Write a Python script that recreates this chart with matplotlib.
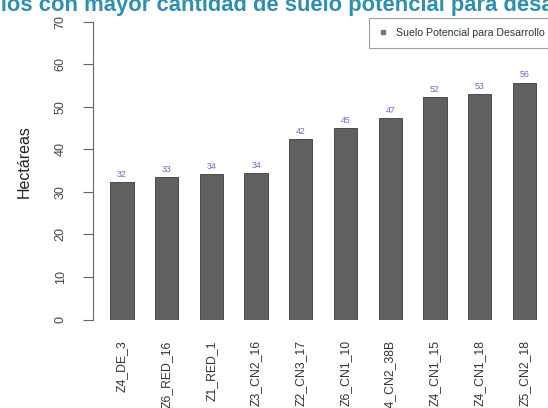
import matplotlib
matplotlib.use("Agg")
import matplotlib.pyplot as plt
from matplotlib.lines import Line2D

# Data
predios = ["Z4_DE_3", "Z6_RED_16", "Z1_RED_1", "Z3_CN2_16", "Z2_CN3_17",
           "Z6_CN1_10", "Z4_CN2_38B", "Z4_CN1_15", "Z4_CN1_18", "Z5_CN2_18"]
hectareas = [32.3, 33.4, 34.1, 34.4, 42.4, 45.0, 47.3, 52.2, 52.9, 55.7]
y_ticks = [0, 10, 20, 30, 40, 50, 60, 70]
titulo = "Predios con mayor cantidad de suelo potencial para desarrollo"
etiqueta_y = "Hectáreas"
serie = "Suelo Potencial para Desarrollo"

plt.rcParams["font.family"] = ["Liberation Sans", "DejaVu Sans"]

W, H = 548, 408
fig = plt.figure(figsize=(W / 100, H / 100), dpi=100)
fig.patch.set_facecolor("white")

# Axes placed in pixel terms
left_px, right_px = 93, 548
bottom_px, top_px = 319.5, 21.7
ax = fig.add_axes([left_px / W, 1 - bottom_px / H,
                   (right_px - left_px) / W, (bottom_px - top_px) / H])

x = list(range(len(predios)))
bars = ax.bar(x, hectareas, width=0.52, color="#606060",
              edgecolor="#3a3a3a", linewidth=0.6)

# value labels above each bar
for xi, v in zip(x, hectareas):
    ax.text(xi, v + 0.8, f"{round(v):d}", ha="center", va="bottom",
            fontsize=6.3, color="#6a6ac8")

# x limits so bar centres fall at the right spots
step = 44.7
x0_px = 122
ax.set_xlim((left_px - x0_px) / step, (right_px - x0_px) / step)
ax.set_ylim(0, 70)

for s in ["top", "right", "bottom"]:
    ax.spines[s].set_visible(False)
ax.spines["left"].set_color("#666666")
ax.spines["left"].set_linewidth(0.8)

ax.set_yticks(y_ticks)
ax.set_yticklabels([str(t) for t in y_ticks], rotation=90, va="center",
                   fontsize=9, color="#444444")
ax.tick_params(axis="y", direction="out", length=7, width=0.8,
               color="#666666", pad=12)

ax.set_xticks(x)
ax.set_xticklabels(predios, rotation=90, ha="center", va="top",
                   fontsize=8.8, color="#333333")
ax.tick_params(axis="x", length=0, pad=15)

ax.set_ylabel(etiqueta_y, fontsize=11.5, color="#222222")
ax.yaxis.set_label_coords(-(93 - 32) / (right_px - left_px), 0.53)

# legend box in the top right corner
handle = Line2D([], [], marker="s", linestyle="none", markersize=3,
                color="#777777")
leg = fig.legend([handle], [serie], loc="upper left",
                 bbox_to_anchor=(369 / W, 1 - 18 / H),
                 bbox_transform=fig.transFigure, borderaxespad=0,
                 fontsize=7.6, frameon=True, fancybox=False,
                 handlelength=0.8, handletextpad=0.8, borderpad=0.95,
                 labelcolor="#333333")
leg.get_frame().set_edgecolor("#888888")
leg.get_frame().set_linewidth(0.8)

# title, partly running past the canvas edges
title_size = 15.8
fig.canvas.draw()
renderer = fig.canvas.get_renderer()
probe = fig.text(0, 0, "Pred", fontsize=title_size, fontweight="bold")
w_pred = probe.get_window_extent(renderer).width
probe.remove()
fig.text(-w_pred / W + 1 / W, 1 - 11 / H, titulo, fontsize=title_size,
         fontweight="bold", color="#2f8fb2", ha="left", va="baseline")

fig.savefig("out.png", dpi=100, facecolor="white")
